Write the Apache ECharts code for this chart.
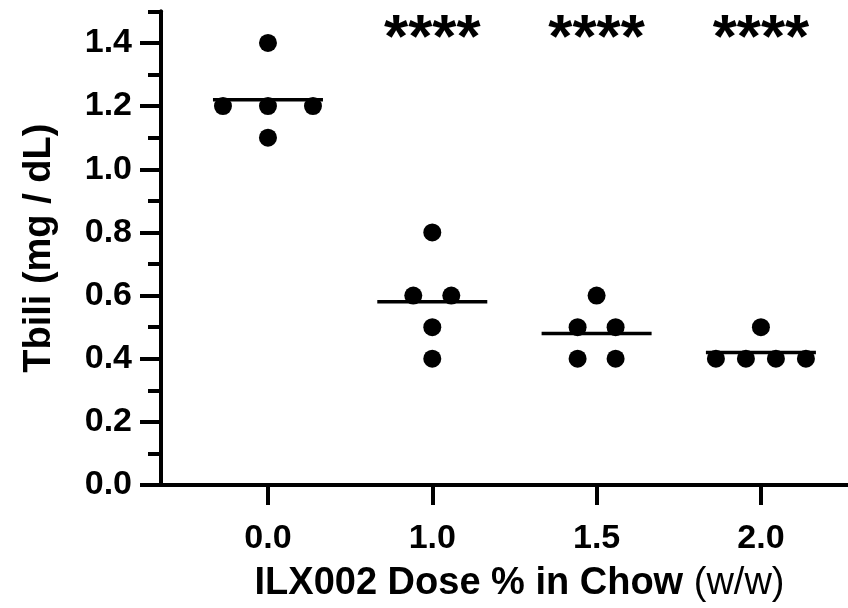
<!DOCTYPE html>
<html>
<head>
<meta charset="utf-8">
<script src="https://cdn.jsdelivr.net/npm/echarts@6/dist/echarts.min.js"></script>
<style>
html,body{margin:0;padding:0;background:#fff;}
#chart{width:848px;height:608px;}
</style>
</head>
<body>
<div id="chart"></div>
<script>
// ---- data ----
const categories = ['0.0', '1.0', '1.5', '2.0'];
const dose00 = [1.4, 1.2, 1.2, 1.2, 1.1];
const dose10 = [0.8, 0.6, 0.6, 0.5, 0.4];
const dose15 = [0.6, 0.5, 0.5, 0.4, 0.4];
const dose20 = [0.5, 0.4, 0.4, 0.4, 0.4];
const significance = ['', '****', '****', '****'];
const yTicks = [0.0, 0.2, 0.4, 0.6, 0.8, 1.0, 1.2, 1.4];
const yMinorTicks = [0.0, 0.1, 0.2, 0.3, 0.4, 0.5, 0.6, 0.7, 0.8, 0.9, 1.0, 1.1, 1.2, 1.3, 1.4, 1.5];
const yMin = 0, yMax = 1.5;
const xTitle = 'ILX002 Dose % in Chow ';
const xTitleUnit = '(w/w)';
const yTitle = 'Tbili (mg / dL)';

const groups = [dose00, dose10, dose15, dose20];

// ---- layout ----
const W = 848, H = 608;
const gridLeft = 161, gridTop = 11.4, gridBottom = 122, gridRight = 0;
const xMin = -0.651, xMax = 3.53;
const pxPerUnit = (W - gridLeft - gridRight) / (xMax - xMin);
const dotSize = 18;
const FONT = '"Liberation Sans", Arial, Helvetica, sans-serif';

// spread duplicate values horizontally (scatter-dot layout)
const dots = [];
groups.forEach((vals, gi) => {
  const counts = {};
  vals.forEach(v => { counts[v] = (counts[v] || 0) + 1; });
  const seen = {};
  vals.forEach(v => {
    const n = counts[v];
    const k = seen[v] = (seen[v] === undefined ? 0 : seen[v] + 1);
    let off = 0;
    if (n > 1) {
      const spread = n === 2 ? 2 * dotSize + 2 : 5 * dotSize;
      off = -spread / 2 + k * spread / (n - 1);
    }
    dots.push([gi + off / pxPerUnit, v]);
  });
});
const means = groups.map(vals => vals.reduce((a, b) => a + b, 0) / vals.length);

const chart = echarts.init(document.getElementById('chart'), null, {renderer: 'canvas'});
const axisLineStyle = {color: '#000', width: 4};
const option = {
  animation: false,
  backgroundColor: '#fff',
  grid: {left: gridLeft, right: gridRight, top: gridTop, bottom: gridBottom},
  xAxis: {
    type: 'value', min: xMin, max: xMax,
    axisLine: {show: true, onZero: false, lineStyle: axisLineStyle},
    axisTick: {show: true, customValues: categories.map((c, i) => i), length: 20, lineStyle: {color: '#000', width: 4}},
    axisLabel: {
      show: true, customValues: categories.map((c, i) => i),
      formatter: v => categories[Math.round(v)],
      fontFamily: FONT, fontSize: 34, fontWeight: 'bold', color: '#000', margin: 37
    },
    splitLine: {show: false},
    name: '{b|' + xTitle + '}{n|' + xTitleUnit + '}',
    nameLocation: 'middle', nameGap: 79,
    nameTextStyle: {
      padding: [0, 0, 0, 30],
      rich: {
        b: {fontFamily: FONT, fontSize: 38, fontWeight: 'bold', color: '#000', lineHeight: 40},
        n: {fontFamily: FONT, fontSize: 38, fontWeight: 'normal', color: '#000', lineHeight: 40}
      }
    }
  },
  yAxis: [
    {
      type: 'value', min: yMin, max: yMax, position: 'left',
      axisLine: {show: true, onZero: false, lineStyle: axisLineStyle},
      axisTick: {show: true, customValues: yMinorTicks, length: 13, lineStyle: {color: '#000', width: 4}},
      axisLabel: {show: false},
      splitLine: {show: false}
    },
    {
      type: 'value', min: yMin, max: yMax, position: 'left',
      axisLine: {show: true, onZero: false, lineStyle: axisLineStyle},
      axisTick: {show: true, customValues: yTicks, length: 21, lineStyle: {color: '#000', width: 4}},
      axisLabel: {
        show: true, customValues: yTicks, formatter: v => v.toFixed(1),
        fontFamily: FONT, fontSize: 34, fontWeight: 'bold', color: '#000', margin: 29
      },
      splitLine: {show: false},
      name: yTitle, nameLocation: 'middle', nameGap: 101,
      nameTextStyle: {fontFamily: FONT, fontSize: 38, fontWeight: 'bold', color: '#000', lineHeight: 40}
    }
  ],
  series: [
    {
      type: 'custom',
      yAxisIndex: 0,
      data: means.map((m, i) => [i, m]),
      renderItem: (params, api) => {
        const c = api.coord([api.value(0), api.value(1)]);
        return {
          type: 'line',
          shape: {x1: c[0] - 55, y1: c[1], x2: c[0] + 55, y2: c[1]},
          style: {stroke: '#000', lineWidth: 3.5}
        };
      },
      silent: true,
      z: 2
    },
    {
      type: 'scatter',
      yAxisIndex: 0,
      data: dots,
      symbol: 'circle',
      symbolSize: dotSize,
      itemStyle: {color: '#000', opacity: 1},
      silent: true,
      z: 3
    },
    {
      type: 'scatter',
      yAxisIndex: 0,
      data: significance.map((s, i) => [i, 1.45, s]),
      symbolSize: 0,
      itemStyle: {opacity: 1},
      label: {
        show: true, position: 'inside', offset: [0, 13],
        formatter: p => p.data[2],
        fontFamily: FONT, fontSize: 62, fontWeight: 'bold', color: '#000', opacity: 1
      },
      silent: true,
      z: 4
    }
  ]
};
chart.setOption(option);
</script>
</body>
</html>
